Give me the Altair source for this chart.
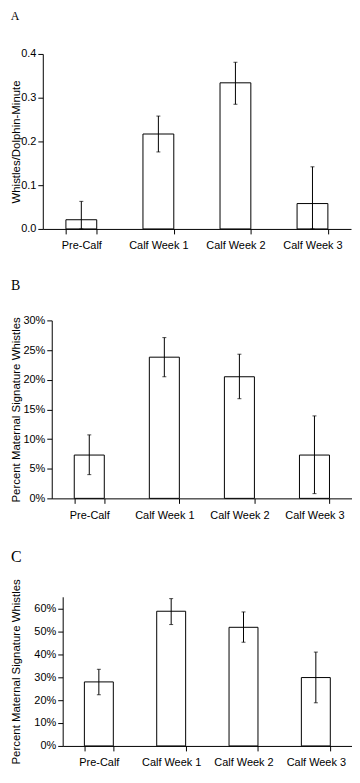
import altair as alt
import pandas as pd

categories = ["Pre-Calf", "Calf Week 1", "Calf Week 2", "Calf Week 3"]

a_mean = [0.021, 0.217, 0.334, 0.058]
a_low = [0.0, 0.176, 0.285, 0.0]
a_high = [0.063, 0.258, 0.381, 0.142]

b_mean = [0.073, 0.238, 0.205, 0.073]
b_low = [0.040, 0.205, 0.168, 0.008]
b_high = [0.107, 0.271, 0.243, 0.139]

c_mean = [0.279, 0.587, 0.517, 0.298]
c_low = [0.223, 0.529, 0.452, 0.188]
c_high = [0.334, 0.642, 0.584, 0.409]

a_ticks = [0.0, 0.1, 0.2, 0.3, 0.4]
b_ticks = [0.0, 0.05, 0.10, 0.15, 0.20, 0.25, 0.30]
c_ticks = [0.0, 0.1, 0.2, 0.3, 0.4, 0.5, 0.6]


def panel(letter, lsize, mean, low, high, ytitle, fmt, ydomain, yvalues, w, h, title_pad, toff):
    df = pd.DataFrame({"cat": categories, "mean": mean, "low": low, "high": high})
    x = alt.X(
        "cat:N",
        sort=categories,
        scale=alt.Scale(paddingInner=0.6, paddingOuter=0.3),
        axis=alt.Axis(title=None, labelAngle=0, tickBand="extent", labelPadding=6),
    )
    yscale = alt.Scale(domain=ydomain, nice=False)
    yaxis = alt.Axis(title=ytitle, format=fmt, values=yvalues, titlePadding=title_pad,
                     labelPadding=2)
    base = alt.Chart(df)
    bars = base.mark_bar(fill="white", stroke="black", strokeWidth=1).encode(
        x=x, y=alt.Y("mean:Q", scale=yscale, axis=yaxis)
    )
    rules = base.mark_rule(color="black", strokeWidth=1).encode(
        x=x, y=alt.Y("low:Q", scale=yscale, axis=yaxis), y2="high:Q"
    )
    cap_hi = base.mark_tick(color="black", size=4, thickness=1).encode(
        x=x, y=alt.Y("high:Q", scale=yscale, axis=yaxis)
    )
    cap_lo = base.mark_tick(color="black", size=4, thickness=1).encode(
        x=x, y=alt.Y("low:Q", scale=yscale, axis=yaxis)
    )
    return alt.layer(bars, rules, cap_hi, cap_lo).properties(
        width=w,
        height=h,
        title=alt.TitleParams(
            letter,
            anchor="start",
            frame="bounds",
            font="Liberation Serif",
            fontSize=lsize,
            fontWeight="normal",
            color="black",
            offset=toff,
        ),
    )


def spacer():
    return alt.Chart(pd.DataFrame({"v": [0]})).mark_point(opacity=0, size=1).encode(
        x=alt.value(0), y=alt.value(0)
    ).properties(width=1, height=1)


pa = panel("A", 12, a_mean, a_low, a_high, "Whistles/Dolphin-Minute", ".1f",
           [0, 0.4], a_ticks, 310, 176, -1, 25)
pb = panel("B", 14, b_mean, b_low, b_high, "Percent Maternal Signature Whistles", ".0%",
           [0, 0.30], b_ticks, 302, 179, 1, 22)
pc = panel("C", 16, c_mean, c_low, c_high, "Percent Maternal Signature Whistles", ".0%",
           [0, 0.65], c_ticks, 291, 150, 12, 14)

chart = alt.vconcat(
    alt.hconcat(spacer(), pa, spacing=0),
    alt.hconcat(spacer(), pb, spacing=0),
    alt.hconcat(spacer(), pc, spacing=0),
    spacing=28,
).properties(
    padding=0
).configure_view(stroke=None).configure_axis(
    grid=False,
    domainColor="black",
    tickColor="black",
    labelColor="black",
    titleColor="black",
    labelFont="Liberation Sans",
    titleFont="Liberation Sans",
    labelFontSize=11,
    titleFontSize=11.5,
    titleFontWeight="normal",
    tickSize=5,
)

chart.save("out.html", embed_options={"renderer": "svg", "actions": False})
